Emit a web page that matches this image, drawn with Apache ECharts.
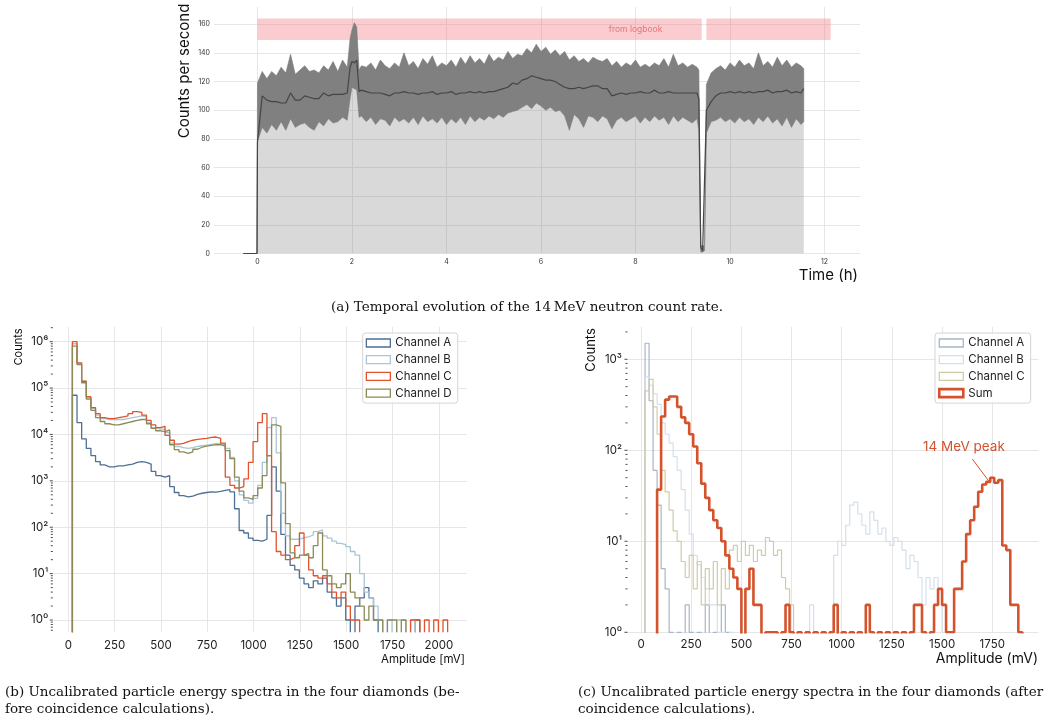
<!DOCTYPE html>
<html>
<head>
<meta charset="utf-8">
<script src="https://cdn.jsdelivr.net/npm/echarts@6/dist/echarts.min.js"></script>
<style>
  html, body { margin: 0; background: #fff; }
  #chart { width: 1052px; height: 724px; }
</style>
</head>
<body>
<div id="chart"></div>
<script>
// (a) count rate, hours vs counts per second (envelope of the noisy trace + running mean)
const hours = [-0.3, -0.01,
  0, 0.1, 0.2, 0.3, 0.4, 0.5, 0.6, 0.7, 0.8, 0.9,
  1.0, 1.1, 1.2, 1.3, 1.4, 1.5, 1.6, 1.7, 1.8, 1.9,
  1.96, 2.0, 2.05, 2.1, 2.15,
  2.2, 2.3, 2.4, 2.5, 2.6, 2.7, 2.8, 2.9, 3.0, 3.1,
  3.2, 3.3, 3.4, 3.5, 3.6, 3.7, 3.8, 3.9, 4.0, 4.1,
  4.2, 4.3, 4.4, 4.5, 4.6, 4.7, 4.8, 4.9, 5.0, 5.1,
  5.2, 5.3, 5.4, 5.5, 5.6, 5.7, 5.8, 5.9, 6.0, 6.1,
  6.2, 6.3, 6.4, 6.5, 6.6, 6.7, 6.8, 6.9, 7.0, 7.1,
  7.2, 7.3, 7.4, 7.5, 7.6, 7.7, 7.8, 7.9, 8.0, 8.1,
  8.2, 8.3, 8.4, 8.5, 8.6, 8.7, 8.8, 8.9, 9.0, 9.1,
  9.2, 9.3, 9.34, 9.38, 9.42, 9.46,
  9.5, 9.6, 9.7, 9.8, 9.9, 10.0, 10.1, 10.2, 10.3, 10.4,
  10.5, 10.6, 10.7, 10.8, 10.9, 11.0, 11.1, 11.2, 11.3, 11.4,
  11.5, 11.56];
const cpsUpper = [0, 0,
  119, 127, 122, 127, 124, 130, 126, 139, 125, 128,
  131, 127, 128, 126, 131, 128, 134, 127, 135, 130,
  150, 156, 161, 158, 128,
  131, 130, 133, 128, 135, 131, 129, 133, 130, 140,
  131, 134, 129, 136, 132, 138, 130, 133, 131, 135,
  130, 137, 132, 138, 133, 136, 132, 139, 134, 137,
  135, 141, 136, 139, 138, 143, 140, 146, 141, 144,
  139, 142, 138, 141, 135, 138, 134, 136, 133, 137,
  135, 134, 136, 131, 134, 130, 133, 131, 135, 130,
  132, 130, 133, 131, 136, 130, 139, 131, 133, 130,
  132, 130, 128, 6, 5, 6,
  118, 126, 129, 131, 128, 133, 130, 135, 131, 133,
  129, 140, 131, 134, 130, 137, 131, 135, 130, 133,
  131, 129];
const cpsLower = [0, 0,
  78, 88, 84, 90, 86, 92, 86, 94, 88, 90,
  91, 88, 86, 92, 89, 94, 91, 92, 95, 93,
  108, 116, 115, 114, 95,
  96, 92, 95, 90, 94, 93, 89, 95, 92, 94,
  91, 95, 90, 96, 92, 94, 91, 95, 90, 94,
  91, 95, 90, 96, 92, 95, 93, 96, 94, 97,
  95, 98, 99, 100, 102, 104, 101, 105, 103, 100,
  102, 99, 100, 96, 86, 97, 94, 88, 96, 95,
  92, 96, 94, 87, 93, 95, 92, 94, 96, 91,
  95, 92, 96, 93, 95, 90, 96, 92, 95, 93,
  91, 94, 86, 1, 1, 2,
  84, 92, 93, 95, 92, 94, 91, 95, 92, 94,
  90, 95, 92, 96, 91, 94, 89, 95, 88, 94,
  90, 92];
const cpsMean = [0, 0,
  78, 110, 107, 106, 106, 105, 105, 112, 107, 107,
  110, 109, 108, 108, 112, 110, 111, 111, 111, 112,
  130, 134, 133, 135, 113,
  114, 113, 112, 112, 112, 111, 110, 112, 112, 113,
  112, 112, 111, 112, 112, 113, 111, 112, 112, 113,
  111, 112, 112, 113, 112, 113, 112, 113, 113, 114,
  115, 116, 119, 118, 121, 122, 124, 123, 122, 121,
  121, 120, 118, 116, 115, 115, 116, 115, 116, 117,
  117, 115, 115, 110, 111, 112, 111, 112, 112, 113,
  112, 112, 114, 112, 112, 113, 112, 112, 112, 112,
  112, 112, 108, 4, 2, 3,
  100, 106, 110, 112, 112, 113, 112, 113, 112, 113,
  112, 113, 113, 114, 112, 113, 113, 114, 112, 113,
  112, 115];
const logbookSpans = [[0, 9.40], [9.50, 12.13]];
const logbookBand = [149, 164];
const timeTicks = [0, 2, 4, 6, 8, 10, 12];
const cpsTicks = [0, 20, 40, 60, 80, 100, 120, 140, 160];

// (b) spectra before coincidence, 25 mV bins starting at 22 mV
const binStartB = 22;
const binWidthB = 25;
const namesB = ['Channel A', 'Channel B', 'Channel C', 'Channel D'];
const countsBA = [
  7e4, 1.8e4, 8e3, 5e3, 3.5e3, 2.6e3, 2.2e3, 2.0e3, 2.0e3, 2.1e3,
  2.1e3, 2.2e3, 2.3e3, 2.5e3, 2.6e3, 2.5e3, 2.3e3, 1.6e3, 1.3e3, 1.2e3,
  1.3e3, 750, 560, 480, 450, 470, 510, 540, 560, 580,
  570, 590, 620, 650, 580, 250, 85, 75, 58, 52,
  50, 55, 180, 2000, 600, 70, 25, 15, 12, 8,
  6, 5, 7, 6, 8, 4, 3, 2, 3, 1,
  0, 2, 3, 5, 3, 1, 0, 0, 0, 0,
  0, 0, 0, 0, 1, 0, 0, 0, 0, 0,
  0];
const countsBB = [
  9e5, 3.4e5, 1.4e5, 6.2e4, 3.6e4, 2.6e4, 2.2e4, 2.1e4, 2.1e4, 2.1e4,
  2.1e4, 2.2e4, 2.3e4, 2.4e4, 2.5e4, 2.4e4, 1.8e4, 1.4e4, 1.3e4, 1.3e4,
  1.1e4, 6.5e3, 5.5e3, 5.2e3, 5.0e3, 5.2e3, 5.5e3, 5.7e3, 5.9e3, 6.1e3,
  6.3e3, 6.3e3, 6.0e3, 5.0e3, 3.2e3, 1.0e3, 500, 380, 330, 420,
  800, 2.5e3, 1.4e4, 2.3e4, 4e3, 200, 65, 55, 55, 60,
  62, 68, 80, 88, 65, 58, 50, 45, 42, 38,
  30, 25, 10, 4, 3, 2, 1, 0, 1, 0,
  1, 1, 0, 1, 0, 0, 0, 0, 0, 0,
  0];
const countsBC = [
  1.0e6, 3.5e5, 1.4e5, 6.5e4, 3.8e4, 2.8e4, 2.3e4, 2.2e4, 2.2e4, 2.3e4,
  2.4e4, 2.5e4, 2.8e4, 3.1e4, 3.0e4, 2.6e4, 2.0e4, 1.6e4, 1.4e4, 1.5e4,
  9.5e3, 7.5e3, 6.2e3, 6.4e3, 7.0e3, 7.5e3, 7.8e3, 8.0e3, 8.2e3, 8.6e3,
  8.8e3, 8.2e3, 6.5e3, 1.2e3, 800, 700, 750, 1.1e3, 2.5e3, 7e3,
  1.8e4, 2.8e4, 3.5e3, 80, 30, 25, 20, 22, 40, 75,
  25, 12, 9, 8, 9, 6, 4, 3, 4, 2,
  1, 1, 0, 0, 0, 0, 0, 0, 0, 0,
  0, 0, 0, 1, 1, 0, 1, 0, 1, 0,
  1];
const countsBD = [
  8e5, 3.2e5, 1.3e5, 5.8e4, 3.3e4, 2.3e4, 1.9e4, 1.7e4, 1.6e4, 1.6e4,
  1.7e4, 1.8e4, 1.9e4, 2.0e4, 2.1e4, 2.1e4, 1.7e4, 1.35e4, 1.2e4, 1.15e4,
  1.25e4, 6e3, 4.7e3, 4.2e3, 3.9e3, 4.2e3, 4.8e3, 5.3e3, 5.6e3, 5.8e3,
  6.0e3, 6.0e3, 5.6e3, 4.5e3, 3.0e3, 1.2e3, 600, 430, 400, 480,
  700, 1.3e3, 3.5e3, 1.6e4, 1.5e4, 900, 120, 28, 22, 25,
  27, 22, 40, 75, 12, 9, 6, 5, 6, 10,
  4, 3, 2, 1, 2, 1, 1, 0, 1, 1,
  0, 1, 0, 0, 0, 0, 0, 0, 0, 0,
  0];
const amplitudeTicksB = [0, 250, 500, 750, 1000, 1250, 1500, 1750, 2000];
const decadesB = [1, 10, 100, 1e3, 1e4, 1e5, 1e6];

// (c) spectra after coincidence, 20 mV bins starting at 20 mV
const binStartC = 20;
const binWidthC = 20;
const namesC = ['Channel A', 'Channel B', 'Channel C', 'Sum'];
const countsCA = [
  1500, 350, 60, 25, 5, 3, 1, 0, 1, 0,
  2, 1, 0, 1, 0, 2, 0, 1, 0, 2,
  1, 0, 0, 0, 0, 0, 0, 0, 0, 0,
  0, 0, 0, 0, 0, 0, 0, 0, 0, 0,
  0, 0, 0, 0, 0, 0, 0, 0, 0, 0,
  0, 0, 0, 0, 0, 0, 0, 0, 0, 0,
  0, 0, 0, 0, 0, 0, 0, 0, 0, 0,
  0, 0, 0, 0, 0, 0, 0, 0, 0, 0,
  0, 0, 0, 0, 0, 0, 0, 0, 0, 0,
  0, 0, 0, 0];
const countsCB = [
  640, 520, 420, 320, 200, 150, 120, 85, 60, 37,
  22, 12, 7, 5.5, 4, 3, 2, 2, 1, 1,
  0, 1, 0, 0, 0, 0, 0, 0, 0, 0,
  0, 0, 0, 0, 0, 0, 0, 0, 0, 0,
  0, 2, 0, 0, 0, 0, 0, 7, 10, 9,
  15, 25, 27, 20, 15, 12, 21, 17, 12, 14,
  10, 9, 11, 10, 8, 5, 7, 6, 4, 2,
  4, 3, 4, 3, 0, 0, 0, 0, 0, 0,
  0, 0, 0, 0, 0, 0, 0, 0, 0, 0,
  0, 0, 0, 0];
const countsCC = [
  450, 600, 300, 150, 60, 35, 22, 13, 10, 6,
  4, 7, 3, 6, 2, 5, 3, 6, 2, 5,
  3, 8, 9, 6, 10, 7, 9, 6, 8, 7,
  11, 10, 7, 8, 4, 3, 2, 0, 1, 0,
  1, 0, 0, 0, 0, 0, 0, 0, 0, 0,
  0, 0, 0, 0, 0, 0, 0, 0, 0, 0,
  0, 0, 0, 0, 0, 0, 0, 0, 0, 0,
  0, 0, 0, 0, 0, 0, 0, 0, 0, 0,
  0, 0, 0, 0, 0, 0, 0, 0, 0, 0,
  0, 0, 0, 0];
const countsCSum = [
  0, 0, 0, 37, 235, 360, 390, 390, 300, 230,
  200, 150, 110, 72, 43, 30, 22, 17, 14, 10,
  7, 5, 4, 3, 0, 3, 5, 2, 2, 0,
  1, 1, 1, 0, 1, 2, 1, 0, 1, 0,
  1, 0, 1, 0, 1, 0, 1, 2, 0, 1,
  0, 1, 0, 1, 0, 2, 1, 0, 1, 0,
  1, 0, 1, 0, 1, 0, 1, 2, 2, 1,
  0, 1, 2, 3, 2, 1, 1, 3, 3, 6,
  12, 17, 24, 35, 42, 45, 50, 44, 47, 9,
  8, 2, 2, 1];
const amplitudeTicksC = [0, 250, 500, 750, 1000, 1250, 1500, 1750];
const decadesC = [1, 10, 100, 1000];
const peakLabel = '14 MeV peak';

const colorsB = ['#4f6f95', '#a9c6d9', '#e1532d', '#8d8a55'];
const colorsC = ['#a9b6c7', '#d4e0ea', '#cfcca9', '#d4532d'];

const SUP = ['⁰', '¹', '²', '³', '⁴', '⁵', '⁶', '⁷', '⁸', '⁹'];
const FONT = 'Inter, "DejaVu Sans", sans-serif';
const SERIF = '"DejaVu Serif", serif';

// step histogram: vertical at first edge, flat over every bin, back down at last edge
function stepData(start, width, counts) {
  const floor = 0.01;
  const pts = [[start, floor]];
  counts.forEach((c, i) => pts.push([start + i * width, c > 0 ? c : floor]));
  pts.push([start + counts.length * width, floor]);
  return pts;
}

function histSeries(name, color, lw, xi, counts, start, width) {
  return {
    name, type: 'line', step: 'end', xAxisIndex: xi, yAxisIndex: xi,
    data: stepData(start, width, counts), showSymbol: false, symbol: 'none',
    lineStyle: { color, width: lw }, itemStyle: { color }, clip: true
  };
}

// log axis ticks (major + minor) drawn just left of the plot
function logTicks(axisIndex, xLeft, lo, hi) {
  const data = [];
  for (let e = -1; e <= 7; e++) {
    for (let k = 1; k <= 9; k++) {
      const v = k * Math.pow(10, e);
      if (v >= lo && v <= hi) data.push([xLeft, v, k === 1 ? 1 : 0]);
    }
  }
  return {
    type: 'custom', xAxisIndex: axisIndex, yAxisIndex: axisIndex, silent: true, clip: false,
    encode: { x: 0, y: 1 }, data,
    renderItem: (params, api) => {
      const p = api.coord([api.value(0), api.value(1)]);
      const len = api.value(2) ? 3.5 : 2.5;
      return {
        type: 'line',
        shape: { x1: p[0] - len, y1: p[1], x2: p[0] - 0.5, y2: p[1] },
        style: { stroke: '#333', lineWidth: 0.9 }
      };
    }
  };
}

function decadeLabel(v) {
  const e = Math.round(Math.log10(v));
  return '10' + SUP[e];
}

function legendBox(left, names, colors, widths) {
  return {
    orient: 'vertical', left, top: 333, padding: [3, 6, 3, 3],
    backgroundColor: 'rgba(255,255,255,0.85)', borderColor: '#d4d4d4', borderWidth: 1, borderRadius: 3,
    itemWidth: 24, itemHeight: 8, itemGap: 2.7, icon: 'rect',
    textStyle: { fontSize: 11.5, color: '#222', fontFamily: FONT, lineHeight: 14 },
    data: names.map((n, i) => ({
      name: n,
      itemStyle: { color: 'transparent', borderColor: colors[i], borderWidth: widths[i] }
    })),
    selectedMode: false
  };
}

const chart = echarts.init(document.getElementById('chart'), null, { renderer: 'canvas' });

const gridLine = { show: true, lineStyle: { color: '#e6e6e6', width: 1 } };
const plainNumber = v => String(v);

const option = {
  animation: false,
  backgroundColor: '#fff',
  textStyle: { fontFamily: FONT },
  grid: [
    { left: 214, top: 7, width: 646, height: 246.5 },
    { left: 53.3, top: 326.7, width: 413.6, height: 305 },
    { left: 628, top: 326.7, width: 410.4, height: 305.6 }
  ],
  xAxis: [
    {
      type: 'value', gridIndex: 0, min: -0.92, max: 12.75,
      axisLine: { show: false },
      axisTick: { show: false, customValues: timeTicks },
      axisLabel: { customValues: timeTicks, formatter: plainNumber, fontSize: 7, color: '#333', margin: 5 },
      splitLine: gridLine
    },
    {
      type: 'value', gridIndex: 1, min: -81, max: 2151,
      axisLine: { show: false },
      axisTick: { show: false, customValues: amplitudeTicksB },
      axisLabel: { customValues: amplitudeTicksB, formatter: plainNumber, fontSize: 11.5, color: '#222', margin: 8 },
      splitLine: gridLine
    },
    {
      type: 'value', gridIndex: 2, min: -65, max: 1980,
      axisLine: { show: false },
      axisTick: { show: false, customValues: amplitudeTicksC },
      axisLabel: { customValues: amplitudeTicksC, formatter: plainNumber, fontSize: 11.5, color: '#222', margin: 6 },
      splitLine: gridLine
    }
  ],
  yAxis: [
    {
      type: 'value', gridIndex: 0, min: 0, max: 172,
      axisLine: { show: false },
      axisTick: { show: false, customValues: cpsTicks },
      axisLabel: { customValues: cpsTicks, formatter: plainNumber, fontSize: 7, color: '#333', margin: 4 },
      splitLine: gridLine
    },
    {
      type: 'log', logBase: 10, gridIndex: 1, min: 0.56, max: 2.1e6,
      axisLine: { show: false },
      axisTick: { show: false, customValues: decadesB },
      axisLabel: { customValues: decadesB, formatter: decadeLabel, fontSize: 11.5, color: '#222', margin: 5 },
      splitLine: gridLine
    },
    {
      type: 'log', logBase: 10, gridIndex: 2, min: 1, max: 2280,
      axisLine: { show: false },
      axisTick: { show: false, customValues: decadesC },
      axisLabel: { customValues: decadesC, formatter: decadeLabel, fontSize: 11.5, color: '#222', margin: 6 },
      splitLine: gridLine
    }
  ],
  legend: [
    legendBox(362.7, namesB, colorsB, [1.3, 1.3, 1.3, 1.3]),
    legendBox(935, namesC, colorsC, [1.3, 1.3, 1.3, 2.6])
  ],
  series: [
    // (a) light fill up to the lower envelope
    {
      type: 'line', xAxisIndex: 0, yAxisIndex: 0, showSymbol: false, symbol: 'none',
      data: hours.map((h, i) => [h, cpsLower[i]]),
      lineStyle: { width: 0 },
      areaStyle: { color: 'rgba(128,128,128,0.3)', opacity: 1 },
      markArea: {
        silent: true,
        itemStyle: { color: 'rgba(242,120,130,0.38)' },
        data: logbookSpans.map(s => [{ coord: [s[0], logbookBand[0]] }, { coord: [s[1], logbookBand[1]] }])
      },
      markPoint: {
        silent: true, symbol: 'circle', symbolSize: 0,
        label: { show: true, position: 'inside', formatter: 'from logbook', color: '#e9727b', fontSize: 8.5 },
        data: [{ coord: [8.0, (logbookBand[0] + logbookBand[1]) / 2] }]
      }
    },
    // (a) noisy band between lower and upper envelope
    {
      type: 'custom', xAxisIndex: 0, yAxisIndex: 0, silent: true,
      data: [[hours[0], 0]],
      renderItem: (params, api) => {
        const pts = [];
        for (let i = 0; i < hours.length; i++) pts.push(api.coord([hours[i], cpsUpper[i]]));
        for (let i = hours.length - 1; i >= 0; i--) pts.push(api.coord([hours[i], cpsLower[i]]));
        return {
          type: 'polygon', shape: { points: pts },
          style: { fill: '#808080', stroke: '#787878', lineWidth: 0.6 }
        };
      }
    },
    // (a) running mean
    {
      type: 'line', xAxisIndex: 0, yAxisIndex: 0, showSymbol: false, symbol: 'none',
      data: hours.map((h, i) => [h, cpsMean[i]]),
      lineStyle: { width: 1.2, color: '#454545' }
    },
    // (b)
    histSeries(namesB[0], colorsB[0], 1.3, 1, countsBA, binStartB, binWidthB),
    histSeries(namesB[1], colorsB[1], 1.3, 1, countsBB, binStartB, binWidthB),
    histSeries(namesB[2], colorsB[2], 1.3, 1, countsBC, binStartB, binWidthB),
    histSeries(namesB[3], colorsB[3], 1.3, 1, countsBD, binStartB, binWidthB),
    logTicks(1, -81, 0.56, 2.1e6),
    // (c)
    histSeries(namesC[0], colorsC[0], 1.2, 2, countsCA, binStartC, binWidthC),
    histSeries(namesC[1], colorsC[1], 1.2, 2, countsCB, binStartC, binWidthC),
    histSeries(namesC[2], colorsC[2], 1.2, 2, countsCC, binStartC, binWidthC),
    Object.assign(histSeries(namesC[3], colorsC[3], 2.6, 2, countsCSum, binStartC, binWidthC), {
      markLine: {
        silent: true, symbol: ['none', 'none'],
        lineStyle: { color: colorsC[3], width: 1, type: 'solid' },
        label: { show: false },
        data: [[{ coord: [1651, 80] }, { coord: [1739, 44] }]]
      },
      markPoint: {
        silent: true, symbol: 'circle', symbolSize: 0,
        label: { show: true, position: 'inside', formatter: peakLabel, color: colorsC[3], fontSize: 13.5 },
        data: [{ coord: [1609, 110] }]
      }
    }),
    logTicks(2, -65, 1, 2280)
  ],
  graphic: [
    { type: 'text', x: 184, y: 71, rotation: Math.PI / 2,
      style: { text: 'Counts per second', font: '15px ' + FONT, fill: '#111', align: 'center', verticalAlign: 'middle' } },
    { type: 'text', x: 858, y: 275,
      style: { text: 'Time (h)', font: '15px ' + FONT, fill: '#111', align: 'right', verticalAlign: 'middle' } },
    { type: 'text', x: 527, y: 307,
      style: { text: '(a) Temporal evolution of the 14\u2009MeV neutron count rate.', font: '13.5px ' + SERIF, fill: '#111', align: 'center', verticalAlign: 'middle' } },
    { type: 'text', x: 19, y: 347, rotation: Math.PI / 2,
      style: { text: 'Counts', font: '11px ' + FONT, fill: '#111', align: 'center', verticalAlign: 'middle' } },
    { type: 'text', x: 465, y: 660,
      style: { text: 'Amplitude [mV]', font: '11.5px ' + FONT, fill: '#111', align: 'right', verticalAlign: 'middle' } },
    { type: 'text', x: 591, y: 350, rotation: Math.PI / 2,
      style: { text: 'Counts', font: '13px ' + FONT, fill: '#111', align: 'center', verticalAlign: 'middle' } },
    { type: 'text', x: 1038, y: 659,
      style: { text: 'Amplitude (mV)', font: '14px ' + FONT, fill: '#111', align: 'right', verticalAlign: 'middle' } },
    { type: 'text', x: 5, y: 692,
      style: { text: '(b) Uncalibrated particle energy spectra in the four diamonds (be-', font: '13.5px ' + SERIF, fill: '#111', align: 'left', verticalAlign: 'middle' } },
    { type: 'text', x: 5, y: 709,
      style: { text: 'fore coincidence calculations).', font: '13.5px ' + SERIF, fill: '#111', align: 'left', verticalAlign: 'middle' } },
    { type: 'text', x: 578, y: 692,
      style: { text: '(c) Uncalibrated particle energy spectra in the four diamonds (after', font: '13.5px ' + SERIF, fill: '#111', align: 'left', verticalAlign: 'middle' } },
    { type: 'text', x: 578, y: 709,
      style: { text: 'coincidence calculations).', font: '13.5px ' + SERIF, fill: '#111', align: 'left', verticalAlign: 'middle' } }
  ]
};

chart.setOption(option);
</script>
</body>
</html>
